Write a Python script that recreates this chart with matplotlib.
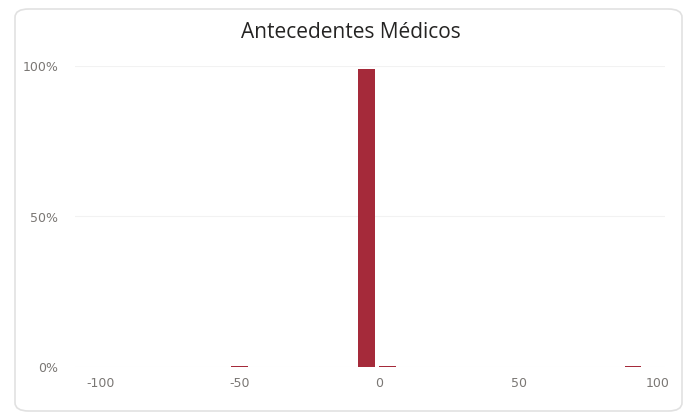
import matplotlib
matplotlib.use("Agg")
import matplotlib.pyplot as plt
from matplotlib.patches import FancyBboxPatch
from matplotlib.ticker import FuncFormatter

plt.rcParams["axes.unicode_minus"] = False

# Distribution of values (bin centres and share of records, %)
bin_centers = [-50, -4.5, 3, 91]
shares = [0.3, 99.1, 0.3, 0.3]
bar_width = 6
x_ticks = [-100, -50, 0, 50, 100]
y_ticks = [0, 50, 100]
title = "Antecedentes Médicos"

bar_color = "#A52A3A"
text_color = "#7A7774"

fig = plt.figure(figsize=(6.91, 4.15), dpi=100)
fig.patch.set_facecolor("white")

# Card background with rounded border
card = FancyBboxPatch((15 / 691, 4 / 415), 667 / 691, 402 / 415,
                      boxstyle="round,pad=0,rounding_size=0.02",
                      transform=fig.transFigure, facecolor="white",
                      edgecolor="#E1E1E1", linewidth=1.2, zorder=-10)
fig.patches.append(card)

ax = fig.add_axes([75 / 691, 1 - 367 / 415, 590 / 691, (367 - 66) / 415])
ax.set_zorder(1)
ax.set_facecolor("none")

ax.bar(bin_centers, shares, width=bar_width, color=bar_color, zorder=3)

ax.set_xlim(-109, 102.5)
ax.set_ylim(0, 100)
ax.set_xticks(x_ticks)
ax.set_yticks(y_ticks)
ax.yaxis.set_major_formatter(FuncFormatter(lambda v, _: f"{v:.0f}%"))

ax.grid(axis="y", color="#F2F2F2", linewidth=0.8, zorder=0)
ax.grid(axis="x", visible=False)
for s in ax.spines.values():
    s.set_visible(False)
ax.tick_params(axis="both", length=0, labelsize=9, colors=text_color)
ax.tick_params(axis="x", pad=7)
ax.tick_params(axis="y", pad=12)

fig.text(351 / 691, 1 - 32 / 415, title, ha="center", va="center",
         fontsize=15, color="#252423", family="Open Sans")

fig.savefig("out.png", dpi=100, facecolor="white")
